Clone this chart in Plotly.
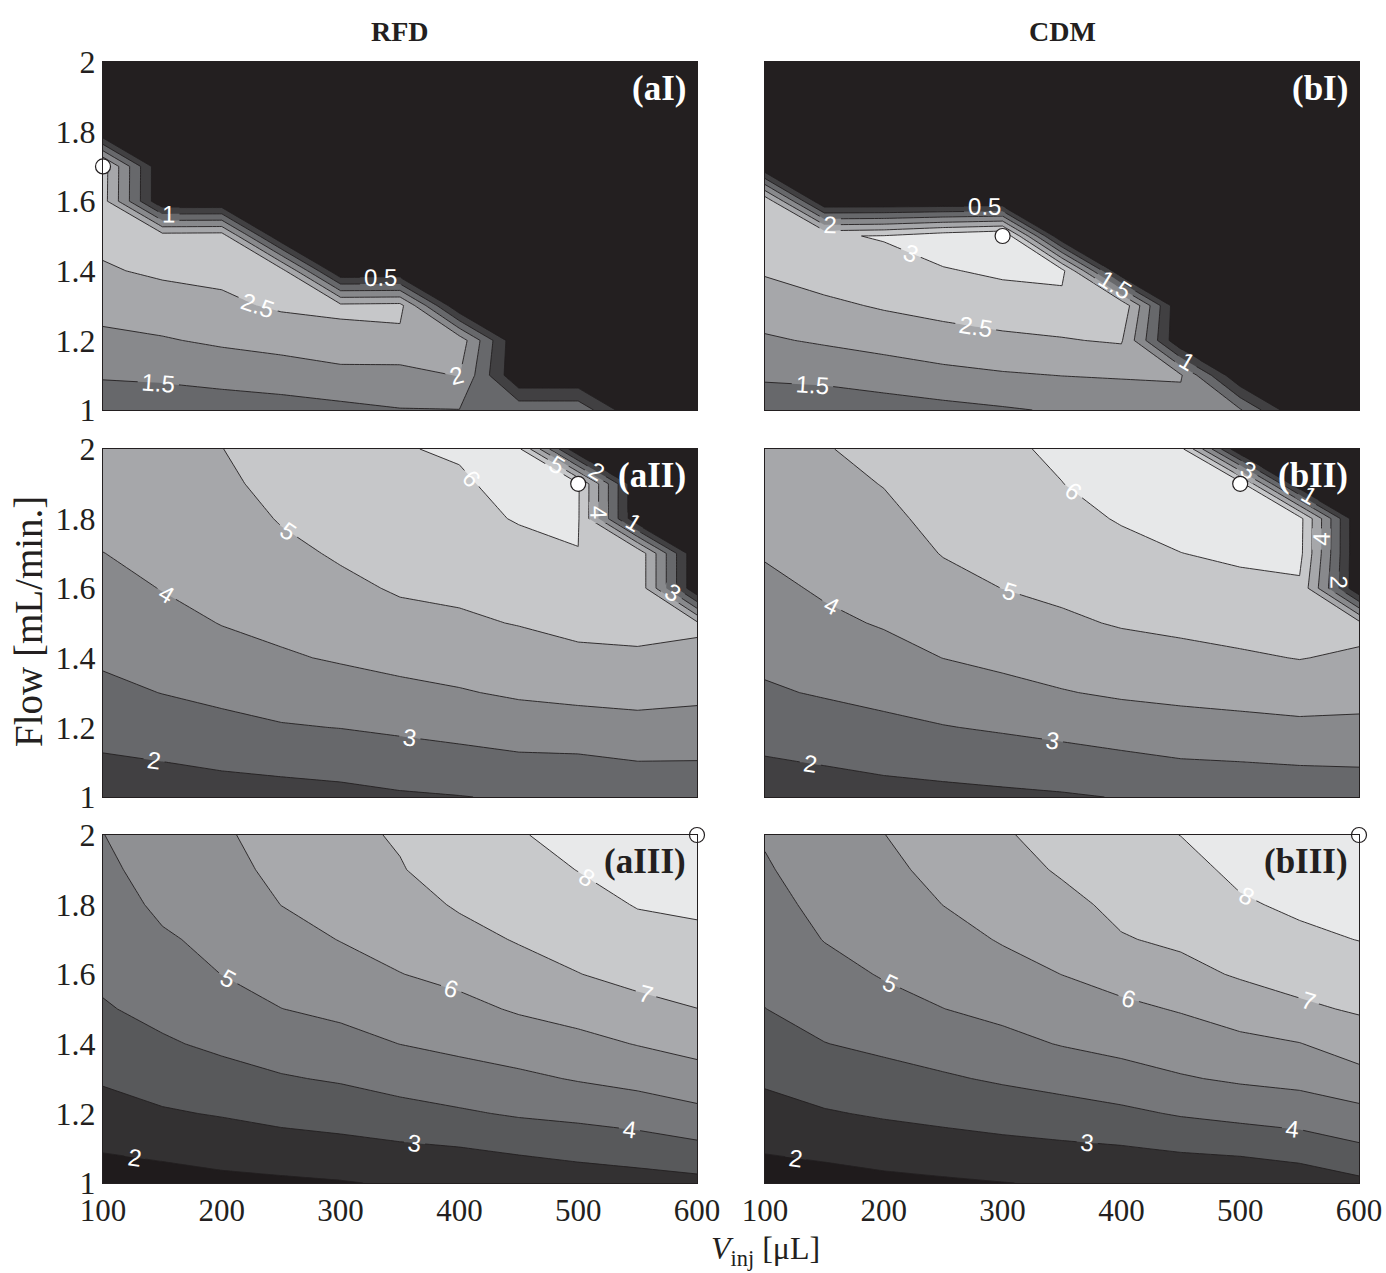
import plotly.graph_objects as go
from plotly.subplots import make_subplots

# ---------------- data ----------------
x_vinj = [100, 150, 200, 250, 300, 350, 400, 450, 500, 550, 600]
y_flow = [1.0, 1.1, 1.2, 1.3, 1.4, 1.5, 1.6, 1.7, 1.8, 1.9, 2.0]

# each inner list = one column (fixed V_inj), values for y_flow from 1.0 to 2.0
aI_cols = [
    [1.24, 1.54, 1.88, 2.18, 2.45, 2.62, 2.70, 2.72, 0, 0, 0],
    [1.23, 1.58, 1.96, 2.28, 2.58, 2.72, 0, 0, 0, 0, 0],
    [1.25, 1.67, 2.08, 2.40, 2.62, 2.75, 0, 0, 0, 0, 0],
    [1.30, 1.75, 2.18, 2.57, 2.70, 0, 0, 0, 0, 0, 0],
    [1.38, 1.86, 2.31, 2.62, 0, 0, 0, 0, 0, 0, 0],
    [1.48, 1.85, 2.35, 2.66, 0, 0, 0, 0, 0, 0, 0],
    [1.49, 2.02, 2.30, 0, 0, 0, 0, 0, 0, 0, 0],
    [1.35, 0, 0, 0, 0, 0, 0, 0, 0, 0, 0],
    [1.35, 0, 0, 0, 0, 0, 0, 0, 0, 0, 0],
    [0, 0, 0, 0, 0, 0, 0, 0, 0, 0, 0],
    [0, 0, 0, 0, 0, 0, 0, 0, 0, 0, 0],
]
bI_cols = [
    [1.22, 1.57, 1.94, 2.25, 2.55, 2.75, 2.88, 0, 0, 0, 0],
    [1.19, 1.63, 2.06, 2.40, 2.73, 2.95, 0, 0, 0, 0, 0],
    [1.27, 1.74, 2.18, 2.55, 2.85, 3.03, 0, 0, 0, 0, 0],
    [1.36, 1.86, 2.31, 2.66, 2.96, 3.30, 0, 0, 0, 0, 0],
    [1.45, 1.95, 2.41, 2.74, 3.09, 3.50, 0, 0, 0, 0, 0],
    [1.55, 2.01, 2.47, 2.80, 3.15, 0, 0, 0, 0, 0, 0],
    [1.60, 2.05, 2.55, 2.90, 0, 0, 0, 0, 0, 0, 0],
    [1.80, 2.05, 0, 0, 0, 0, 0, 0, 0, 0, 0],
    [1.55, 0, 0, 0, 0, 0, 0, 0, 0, 0, 0],
    [0, 0, 0, 0, 0, 0, 0, 0, 0, 0, 0],
    [0, 0, 0, 0, 0, 0, 0, 0, 0, 0, 0],
]
aII_cols = [
    [1.50, 1.88, 2.33, 2.77, 3.14, 3.42, 3.70, 3.99, 4.24, 4.49, 4.74],
    [1.50, 1.99, 2.52, 3.02, 3.37, 3.71, 4.03, 4.22, 4.41, 4.60, 4.80],
    [1.58, 2.14, 2.73, 3.23, 3.66, 4.03, 4.22, 4.41, 4.60, 4.79, 4.98],
    [1.64, 2.26, 2.93, 3.42, 3.90, 4.22, 4.50, 4.79, 5.06, 5.33, 5.60],
    [1.72, 2.37, 3.02, 3.58, 4.09, 4.45, 4.81, 5.10, 5.33, 5.57, 5.80],
    [1.88, 2.53, 3.16, 3.76, 4.28, 4.74, 5.09, 5.31, 5.52, 5.74, 5.95],
    [1.97, 2.66, 3.31, 3.93, 4.41, 4.87, 5.17, 5.40, 5.75, 5.88, 6.10],
    [2.10, 2.80, 3.49, 4.13, 4.59, 5.04, 5.38, 5.72, 6.06, 6.30, 6.20],
    [2.12, 2.81, 3.61, 4.23, 4.81, 5.23, 5.65, 5.98, 6.08, 6.10, 0],
    [2.30, 2.98, 3.70, 4.31, 4.84, 5.33, 5.80, 5.80, 0, 0, 0],
    [2.32, 2.97, 3.63, 4.22, 4.72, 5.20, 0, 0, 0, 0, 0],
]
bII_cols = [
    [1.50, 1.92, 2.38, 2.89, 3.19, 3.49, 3.79, 4.07, 4.31, 4.55, 4.80],
    [1.55, 2.05, 2.59, 3.08, 3.46, 3.83, 4.11, 4.32, 4.53, 4.74, 4.95],
    [1.66, 2.21, 2.78, 3.26, 3.70, 4.07, 4.31, 4.56, 4.80, 5.03, 5.24],
    [1.73, 2.34, 2.96, 3.49, 4.01, 4.36, 4.71, 5.04, 5.26, 5.48, 5.70],
    [1.81, 2.47, 3.11, 3.72, 4.22, 4.62, 5.01, 5.23, 5.45, 5.68, 5.88],
    [1.90, 2.60, 3.28, 3.95, 4.41, 4.86, 5.18, 5.45, 5.73, 5.99, 6.12],
    [2.04, 2.76, 3.47, 4.13, 4.62, 5.07, 5.40, 5.73, 6.07, 6.30, 6.40],
    [2.18, 2.93, 3.63, 4.23, 4.74, 5.20, 5.60, 5.99, 6.30, 6.50, 6.30],
    [2.24, 2.99, 3.71, 4.33, 4.88, 5.34, 5.77, 6.15, 6.45, 6.40, 0],
    [2.32, 3.07, 3.80, 4.44, 5.03, 5.43, 5.83, 6.30, 6.35, 0, 0],
    [2.40, 3.10, 3.78, 4.35, 4.86, 5.30, 0, 0, 0, 0, 0],
]
aIII_cols = [
    [1.55, 2.07, 2.61, 3.11, 3.51, 3.92, 4.17, 4.37, 4.58, 4.79, 4.98],
    [1.60, 2.25, 2.90, 3.41, 3.89, 4.25, 4.57, 4.89, 5.18, 5.40, 5.60],
    [1.76, 2.42, 3.07, 3.67, 4.18, 4.60, 5.01, 5.23, 5.45, 5.67, 5.85],
    [1.84, 2.59, 3.28, 3.92, 4.47, 4.99, 5.34, 5.67, 6.01, 6.25, 6.45],
    [1.94, 2.71, 3.42, 4.10, 4.70, 5.20, 5.62, 6.03, 6.31, 6.56, 6.80],
    [2.10, 2.85, 3.66, 4.38, 5.01, 5.49, 5.98, 6.31, 6.64, 6.95, 7.08],
    [2.20, 2.97, 3.88, 4.61, 5.23, 5.75, 6.24, 6.70, 7.10, 7.39, 7.68],
    [2.26, 3.18, 4.11, 4.81, 5.48, 6.10, 6.61, 7.07, 7.36, 7.65, 7.94],
    [2.46, 3.36, 4.25, 5.07, 5.73, 6.36, 6.98, 7.33, 7.67, 8.02, 8.27],
    [2.60, 3.52, 4.45, 5.30, 6.04, 6.74, 7.26, 7.66, 8.05, 8.30, 8.55],
    [2.73, 3.77, 4.76, 5.60, 6.33, 6.99, 7.41, 7.82, 8.14, 8.39, 8.64],
]
bIII_cols = [
    [1.54, 2.09, 2.64, 3.15, 3.57, 3.99, 4.22, 4.45, 4.67, 4.89, 5.10],
    [1.61, 2.26, 2.92, 3.47, 3.98, 4.34, 4.69, 5.03, 5.27, 5.52, 5.77],
    [1.76, 2.45, 3.11, 3.68, 4.20, 4.68, 5.07, 5.30, 5.53, 5.75, 5.98],
    [1.87, 2.59, 3.27, 3.89, 4.45, 4.99, 5.34, 5.68, 6.01, 6.30, 6.60],
    [1.98, 2.72, 3.44, 4.12, 4.74, 5.24, 5.67, 6.07, 6.36, 6.65, 6.90],
    [2.08, 2.83, 3.60, 4.35, 5.05, 5.53, 6.01, 6.38, 6.75, 7.10, 7.35],
    [2.14, 2.93, 3.80, 4.62, 5.28, 5.80, 6.36, 6.94, 7.22, 7.47, 7.72],
    [2.20, 3.11, 4.09, 4.92, 5.50, 6.07, 6.72, 7.16, 7.44, 7.72, 8.01],
    [2.21, 3.24, 4.30, 5.13, 5.76, 6.45, 7.10, 7.50, 7.90, 8.19, 8.44],
    [2.40, 3.46, 4.47, 5.27, 5.97, 6.83, 7.37, 7.82, 8.15, 8.40, 8.65],
    [2.78, 3.86, 4.73, 5.67, 6.47, 7.11, 7.58, 8.02, 8.27, 8.52, 8.77],
]

panel_labels = ["(aI)", "(bI)", "(aII)", "(bII)", "(aIII)", "(bIII)"]
opt_x = [100, 300, 500, 500, 600, 600]
opt_y = [1.7, 1.5, 1.9, 1.9, 2.0, 2.0]
col_titles = ["RFD", "CDM"]
x_ticks = [100, 200, 300, 400, 500, 600]
y_ticks = [1, 1.2, 1.4, 1.6, 1.8, 2]
y_tick_text = ["1", "1.2", "1.4", "1.6", "1.8", "2"]

# ---------------- style ----------------
pal_top = ['#231f20', '#414042', '#67686b', '#88898c', '#a6a7aa', '#c6c7c9', '#e7e8e9']
pal_bot = ['#1f1b1c', '#333132', '#58595b', '#76777a', '#8f9093', '#a8a9ac', '#c8c9cb', '#e8e9ea']
levels = [
    (0.5, 3.0, 0.5, pal_top), (0.5, 3.0, 0.5, pal_top),
    (1, 6, 1, pal_top), (1, 6, 1, pal_top),
    (2, 8, 1, pal_bot), (2, 8, 1, pal_bot),
]
label_colors = ['white', 'white', 'white', 'white', '#231f20', '#231f20']
serif = "Liberation Serif"

def to_rows(cols):
    return [list(r) for r in zip(*cols)]

def cscale(colors):
    n = len(colors) - 1
    return [[k / n, c] for k, c in enumerate(colors)]

W, H = 1386, 1273
left_dom = [103 / W, 697 / W]
right_dom = [765 / W, 1359 / W]
row_dom = [
    [1 - 410 / H, 1 - 62 / H],
    [1 - 797 / H, 1 - 449 / H],
    [1 - 1183 / H, 1 - 835 / H],
]

fig = make_subplots(rows=3, cols=2)

grids = [aI_cols, bI_cols, aII_cols, bII_cols, aIII_cols, bIII_cols]
for i, cols in enumerate(grids):
    r, c = i // 2 + 1, i % 2 + 1
    start, end, size, pal = levels[i]
    fig.add_trace(go.Contour(
        x=x_vinj, y=y_flow, z=to_rows(cols),
        autocontour=False,
        contours=dict(start=start, end=end, size=size, coloring='fill',
                      showlabels=True,
                      labelfont=dict(family="Liberation Sans", size=24, color='white')),
        colorscale=cscale(pal), showscale=False,
        line=dict(color='#231f20', width=0.9, smoothing=0),
        hoverinfo='skip',
    ), row=r, col=c)
    fig.add_trace(go.Scatter(
        x=[opt_x[i]], y=[opt_y[i]], mode='markers',
        marker=dict(symbol='circle', size=15, color='white',
                    line=dict(color='#231f20', width=1.2)),
        cliponaxis=False, showlegend=False, hoverinfo='skip',
    ), row=r, col=c)

for i in range(6):
    r, c = i // 2 + 1, i % 2 + 1
    xa = 'xaxis' + ('' if i == 0 else str(i + 1))
    ya = 'yaxis' + ('' if i == 0 else str(i + 1))
    fig.layout[xa].update(
        domain=left_dom if c == 1 else right_dom, range=[100, 600],
        tickvals=x_ticks, showticklabels=(r == 3), ticks='', automargin=False,
        showline=True, mirror=True, linecolor='#231f20', linewidth=1,
        showgrid=False, zeroline=False,
        tickfont=dict(family=serif, size=31, color='#231f20'),
    )
    fig.layout[ya].update(
        domain=row_dom[r - 1], range=[1, 2],
        tickvals=y_ticks, ticktext=y_tick_text, showticklabels=(c == 1), ticks='',
        automargin=False,
        showline=True, mirror=True, linecolor='#231f20', linewidth=1,
        showgrid=False, zeroline=False,
        tickfont=dict(family=serif, size=32, color='#231f20'),
    )
    xref = 'x' + ('' if i == 0 else str(i + 1)) + ' domain'
    yref = 'y' + ('' if i == 0 else str(i + 1)) + ' domain'
    fig.add_annotation(
        text="<b>%s</b>" % panel_labels[i], xref=xref, yref=yref,
        x=0.985, y=0.985, xanchor='right', yanchor='top', showarrow=False,
        font=dict(family=serif, size=35, color=label_colors[i]),
    )

for j, t in enumerate(col_titles):
    dom = left_dom if j == 0 else right_dom
    fig.add_annotation(
        text="<b>%s</b>" % t, xref='paper', yref='paper',
        x=(dom[0] + dom[1]) / 2, y=1 - 31 / H, xanchor='center', yanchor='middle',
        showarrow=False, font=dict(family=serif, size=28, color='#231f20'),
    )

fig.add_annotation(
    text="Flow [mL/min.]", xref='paper', yref='paper',
    x=28 / W, y=1 - 622 / H, xanchor='center', yanchor='middle', textangle=-90,
    showarrow=False, font=dict(family=serif, size=39, color='#231f20'),
)
fig.add_annotation(
    text="<i>V</i><sub>inj</sub> [μL]", xref='paper', yref='paper',
    x=765 / W, y=1 - 1250 / H, xanchor='center', yanchor='middle',
    showarrow=False, font=dict(family=serif, size=32, color='#231f20'),
)

fig.update_layout(
    width=W, height=H, margin=dict(l=0, r=0, t=0, b=0),
    paper_bgcolor='white', plot_bgcolor='white', showlegend=False,
)

fig.write_html("out.html")
